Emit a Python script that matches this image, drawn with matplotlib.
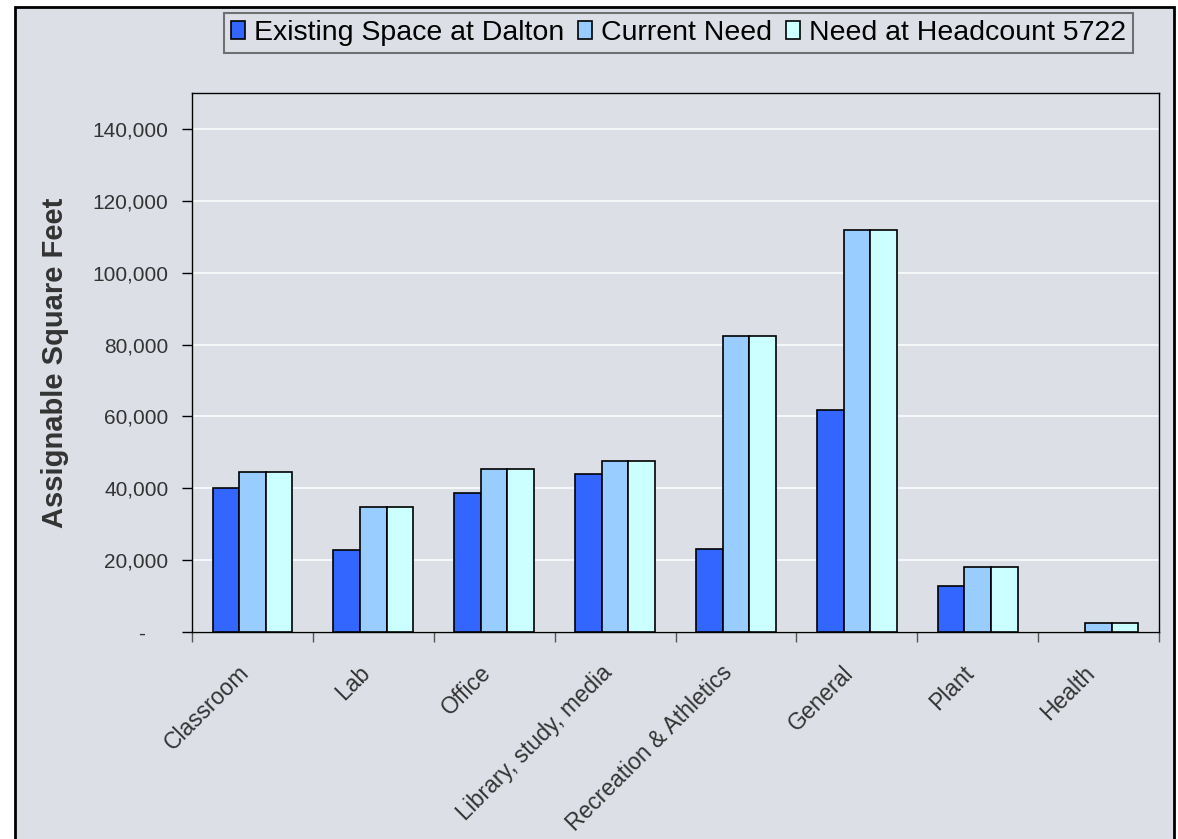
import numpy as np
import matplotlib.pyplot as plt
from matplotlib.patches import Rectangle
from matplotlib.ticker import FuncFormatter
from matplotlib.transforms import ScaledTranslation

plt.rcParams['font.family'] = ['Liberation Sans', 'DejaVu Sans']

# data
categories = ['Classroom', 'Lab', 'Office', 'Library, study, media',
              'Recreation & Athletics', 'General', 'Plant', 'Health']
existing_space = [40200, 22800, 38600, 44000, 23200, 61700, 12900, 0]
current_need = [44400, 34900, 45500, 47700, 82500, 111900, 18200, 2600]
need_headcount = [44400, 34900, 45500, 47700, 82500, 111900, 18200, 2600]
series_names = ['Existing Space at Dalton', 'Current Need', 'Need at Headcount 5722']

bg = '#dcdfe6'
colors = ['#3366ff', '#99ccff', '#ccffff']
text_col = '#333333'

fig = plt.figure(figsize=(11.78, 8.39), dpi=100, facecolor='white')
# chart area border like the spreadsheet frame
fig.patches.append(Rectangle((15 / 1178, -0.02), (1174 - 15) / 1178, 1.02 - 7 / 839,
                             transform=fig.transFigure, facecolor=bg,
                             edgecolor='black', linewidth=2, zorder=-10))

ax = fig.add_axes([192 / 1178, (839 - 632) / 839, (1159 - 192) / 1178, (632 - 93) / 839])
ax.set_facecolor(bg)

x = np.arange(len(categories))
w = 0.22
for i, (vals, name) in enumerate(zip([existing_space, current_need, need_headcount], series_names)):
    # zero values get no outline, like the spreadsheet
    lws = [0 if v == 0 else 1.2 for v in vals]
    ax.bar(x + (i - 1) * w, vals, w, color=colors[i], edgecolor='black',
           linewidth=lws, label=name, zorder=3)

ax.set_xlim(-0.5, len(categories) - 0.5)
ax.set_ylim(0, 150000)
ax.set_yticks(np.arange(0, 140001, 20000))
ax.yaxis.set_major_formatter(FuncFormatter(lambda v, p: '-    ' if v == 0 else f'{v:,.0f}'))
ax.grid(axis='y', color='white', linewidth=1.1, zorder=0)
ax.tick_params(axis='y', direction='out', length=7, width=1, labelsize=15,
               labelcolor=text_col, pad=10)

# boundary ticks, labels at category centres
ax.set_xticks(np.arange(len(categories) + 1) - 0.5)
ax.set_xticklabels([])
ax.tick_params(axis='x', which='major', direction='out', length=7, width=1, color='#555555')
ax.set_xticks(x, minor=True)
ax.set_xticklabels(categories, minor=True, rotation=45, ha='right', va='top',
                   rotation_mode='anchor', fontsize=16.5, color=text_col)
ax.tick_params(axis='x', which='minor', length=0, pad=21)
shift = ScaledTranslation(-15 / 100, 0, fig.dpi_scale_trans)
for lbl in ax.get_xticklabels(minor=True):
    lbl.set_transform(lbl.get_transform() + shift)

for s in ax.spines.values():
    s.set_color('black')
    s.set_linewidth(1)

ax.set_ylabel('Assignable Square Feet', fontsize=21, fontweight='bold', color=text_col)
ax.yaxis.set_label_coords(-0.127, 0.5)

leg = fig.legend(loc='upper center', bbox_to_anchor=(678.5 / 1178, 1 - 13 / 839), ncol=3,
                 fontsize=20.5, frameon=True, fancybox=False, handlelength=0.5,
                 handleheight=0.6, handletextpad=0.3, columnspacing=0.5,
                 borderpad=0.25, borderaxespad=0)
leg.get_frame().set_facecolor(bg)
leg.get_frame().set_edgecolor('#555555')
leg.get_frame().set_linewidth(1.5)

fig.savefig('out.png', dpi=100, facecolor=fig.get_facecolor())
